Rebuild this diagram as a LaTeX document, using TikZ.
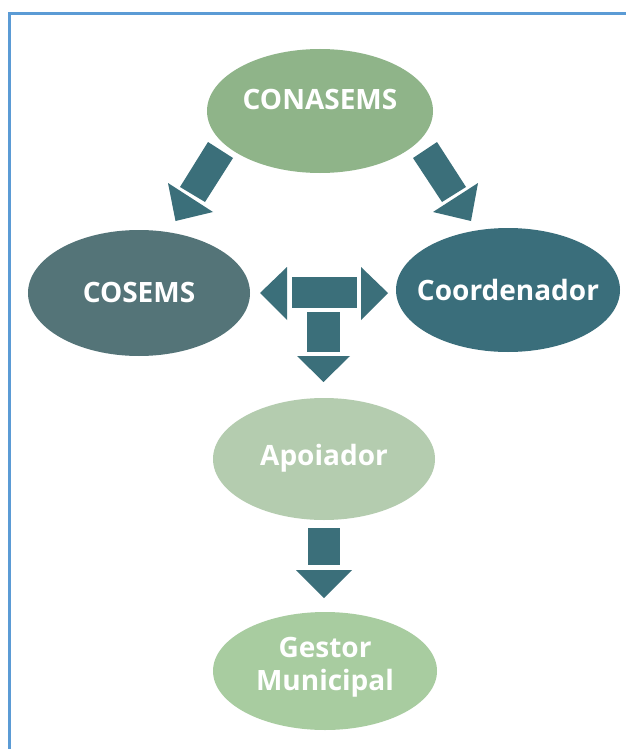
\documentclass[tikz,border=0pt]{standalone}
\usepackage{fontspec}
\setmainfont{Open Sans}
\usetikzlibrary{shapes.geometric}
\definecolor{cConasems}{RGB}{143,180,137}
\definecolor{cCosems}{RGB}{84,116,120}
\definecolor{cCoord}{RGB}{58,110,123}
\definecolor{cApoio}{RGB}{180,204,175}
\definecolor{cGestor}{RGB}{168,204,160}
\definecolor{cArrow}{RGB}{59,111,122}
\definecolor{cFrame}{RGB}{91,155,213}
\tikzset{
  bubble/.style={ellipse, inner sep=0pt, minimum width=224pt, minimum height=124pt, draw=none},
  bubbletext/.style={text=white, font=\fontsize{28}{33}\selectfont\bfseries, align=center, inner sep=0pt},
  blockarrow/.style={fill=cArrow, draw=none},
  frame/.style={draw=cFrame, line width=3pt}
}
\begin{document}
\begin{tikzpicture}[x=1pt,y=-1pt]
\useasboundingbox (0,0) rectangle (626,749);
\fill[white] (0,0) rectangle (626,749);
% partial frame
\draw[frame] (9,749) -- (9,14) -- (626,14);
% ellipses
\node[bubble, fill=cConasems, minimum width=226pt] (conasems) at (320,111) {};
\node[bubbletext] (conasemsT) at (320,99) {CONASEMS};
\node[bubble, fill=cCosems, minimum width=222pt, minimum height=126pt] (cosems) at (139,293) {};
\node[bubbletext] (cosemsT) at (139,292) {COSEMS};
\node[bubble, fill=cCoord] (coord) at (508,290) {};
\node[bubbletext] (coordT) at (508,290) {Coordenador};
\node[bubble, fill=cApoio, minimum width=222pt, minimum height=122pt] (apoio) at (324,459) {};
\node[bubbletext] (apoioT) at (324,458) {Apoiador};
\node[bubble, fill=cGestor, minimum height=118pt] (gestor) at (325,671) {};
\node[bubbletext] (gestorT) at (325,667) {Gestor\\Municipal};
% left arrow CONASEMS -> COSEMS
\fill[blockarrow] (208,142) -- (233,158) -- (205,202) -- (180,187) -- cycle;
\fill[blockarrow] (168,183) -- (213,212) -- (175.5,221) -- cycle;
% right arrow CONASEMS -> Coordenador
\fill[blockarrow] (437,142) -- (413,158) -- (442,202) -- (466,187) -- cycle;
\fill[blockarrow] (478,183) -- (433,212) -- (471,221) -- cycle;
% central T arrow
\fill[blockarrow] (292,277) rectangle (357,308);
\fill[blockarrow] (287,267) -- (287,320) -- (260,293) -- cycle;
\fill[blockarrow] (361,267) -- (361,320) -- (388,293) -- cycle;
\fill[blockarrow] (307,312) rectangle (340,352);
\fill[blockarrow] (297,356) -- (350,356) -- (323.5,382) -- cycle;
% Apoiador -> Gestor
\fill[blockarrow] (308,528) rectangle (340,565);
\fill[blockarrow] (296,570) -- (352,570) -- (324,598) -- cycle;
\end{tikzpicture}
\end{document}
